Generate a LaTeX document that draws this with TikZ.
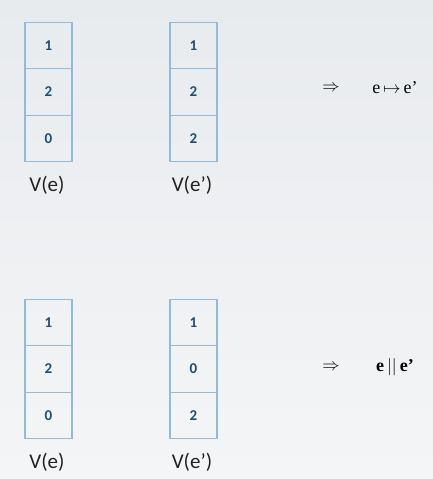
\documentclass[tikz,border=0pt]{standalone}
\usepackage{fontspec}
\setmainfont{Carlito}
\newfontfamily\implfont{Liberation Serif}
\definecolor{bgtop}{HTML}{E8EBEE}
\definecolor{bgbot}{HTML}{F4F5F7}
\definecolor{cellline}{HTML}{92BBD9}
\definecolor{digit}{HTML}{1D4F73}
\definecolor{labeltext}{HTML}{222222}
\tikzset{
  cell/.style={draw=cellline,line width=1.4pt,minimum width=47pt,minimum height=46.5pt,inner sep=0pt,
    font=\fontsize{15}{17}\selectfont\bfseries,text=digit},
  veclabel/.style={font=\fontsize{21}{24}\selectfont,text=labeltext},
  impl/.style={font=\implfont\fontsize{18}{21}\selectfont,text=black}
}
\begin{document}
\begin{tikzpicture}[x=1pt,y=-1pt]
  \shade[top color=bgtop,bottom color=bgbot] (0,0) rectangle (433,479);
  \useasboundingbox (0,0) rectangle (433,479);
  % first pair
  \node[cell] (ea1) at (48.5,45.5) {1};
  \node[cell] (ea2) at (48.5,92) {2};
  \node[cell] (ea3) at (48.5,138.5) {0};
  \node[cell] (fa1) at (193.5,45.5) {1};
  \node[cell] (fa2) at (193.5,92) {2};
  \node[cell] (fa3) at (193.5,138.5) {2};
  \node[veclabel] (ela) at (47,185) {V(e)};
  \node[veclabel] (fla) at (192,185) {V(e’)};
  \node[impl] (ima) at (331,88) {$\Rightarrow$};
  \node[impl] (ra) at (395,88) {e\,$\mapsto$\,e’};
  % second pair
  \node[cell] (eb1) at (48.5,322.5) {1};
  \node[cell] (eb2) at (48.5,369) {2};
  \node[cell] (eb3) at (48.5,415.5) {0};
  \node[cell] (fb1) at (193.5,322.5) {1};
  \node[cell] (fb2) at (193.5,369) {0};
  \node[cell] (fb3) at (193.5,415.5) {2};
  \node[veclabel] (elb) at (47,462) {V(e)};
  \node[veclabel] (flb) at (192,462) {V(e’)};
  \node[impl] (imb) at (331,367) {$\Rightarrow$};
  \node[impl] (rb) at (395,367) {\bfseries e\,$\vert\vert$\,e’};
\end{tikzpicture}
\end{document}
